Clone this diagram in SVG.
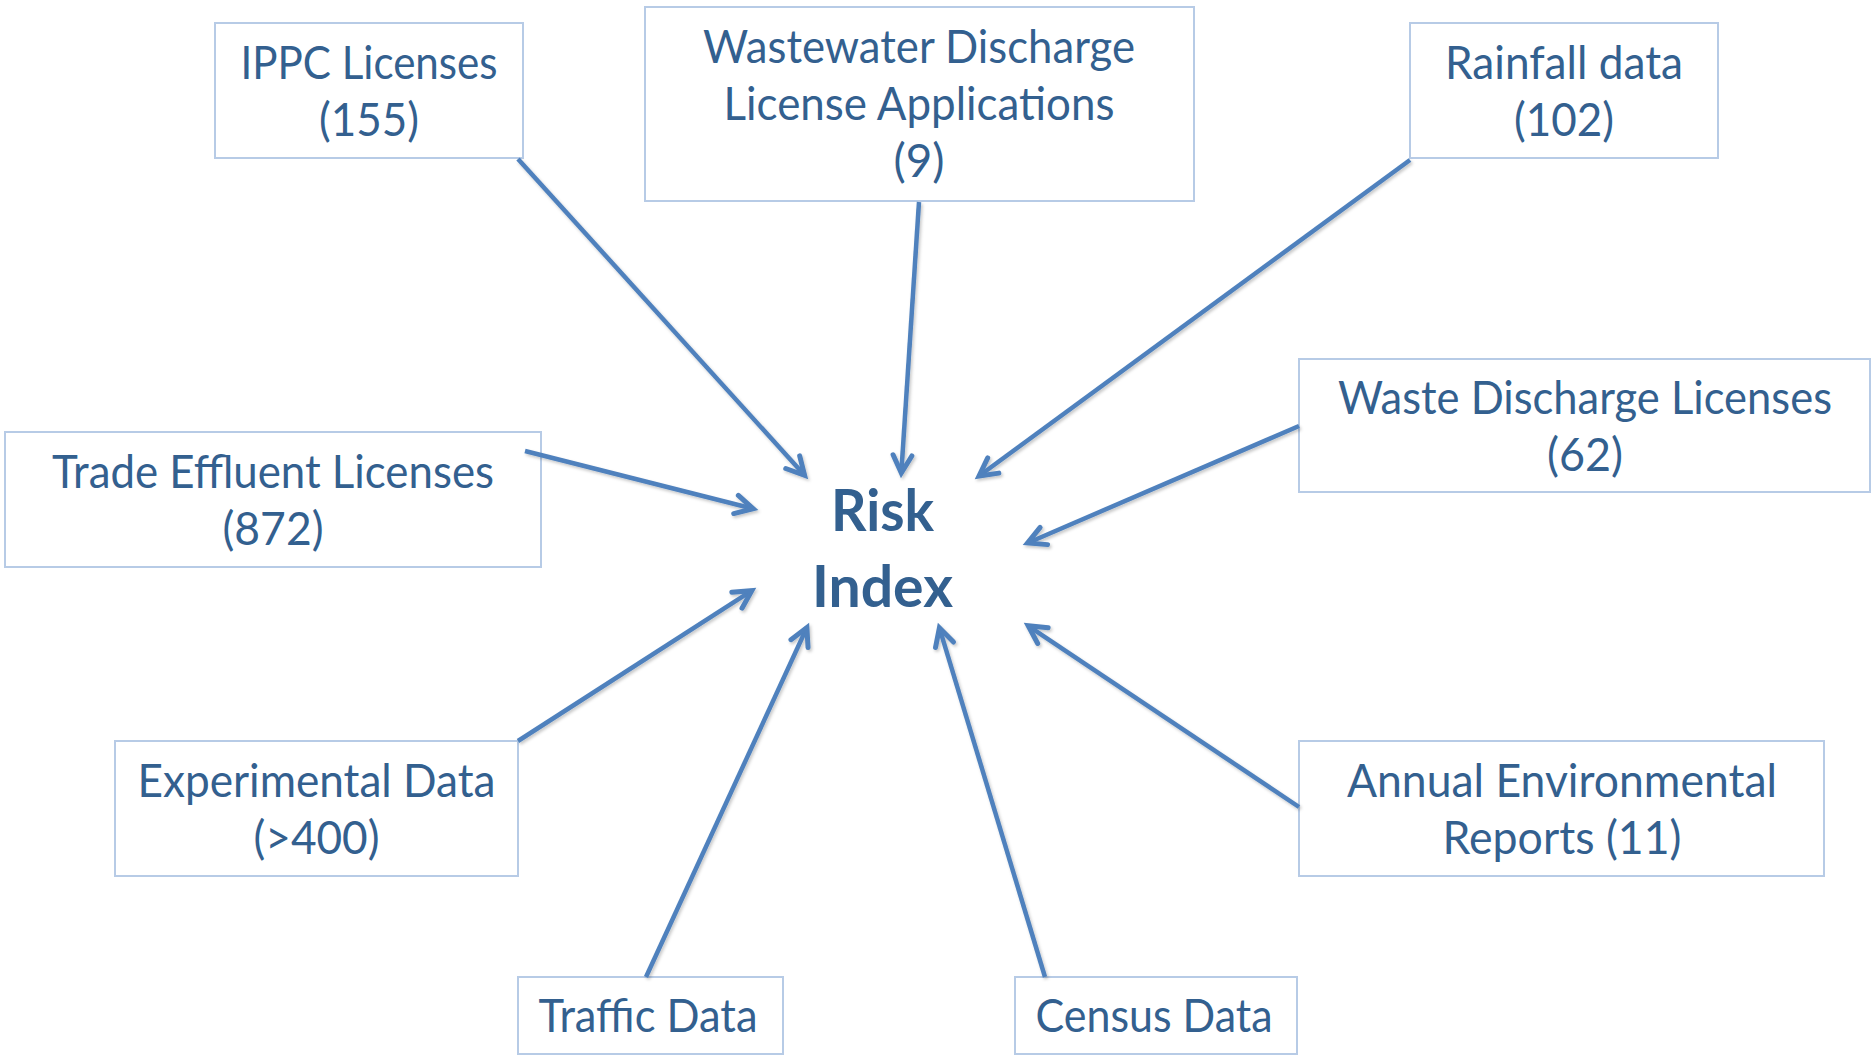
<svg xmlns="http://www.w3.org/2000/svg" width="1874" height="1060" viewBox="0 0 1874 1060">
  <style>
    .box { fill: #ffffff; stroke: #b7cbe6; stroke-width: 2; }
    .lbl { font-family: Lato, "Liberation Sans", Arial, sans-serif; font-size: 46px; fill: #33608f; text-anchor: middle; }
    .hub { font-family: Lato, "Liberation Sans", Arial, sans-serif; font-size: 57px; font-weight: 700; fill: #33608f; text-anchor: middle; }
    .link { fill: none; stroke: #4f81bd; stroke-width: 4.5; marker-end: url(#chev); }
  </style>
  <defs>
    <marker id="chev" markerUnits="userSpaceOnUse" orient="auto" viewBox="-24 -14 34 28" refX="0" refY="0" markerWidth="34" markerHeight="28">
      <path d="M -17.7 -9.4 L 0 0 L -17.7 9.4" fill="none" stroke="#4f81bd" stroke-width="5" stroke-linecap="round" stroke-linejoin="miter"/>
    </marker>
    <filter id="soft" x="-10%" y="-10%" width="120%" height="120%">
      <feDropShadow dx="1.5" dy="2" stdDeviation="1.5" flood-color="#000000" flood-opacity="0.22"/>
    </filter>
  </defs>

  <rect width="1874" height="1060" fill="#ffffff"/>

  <!-- source boxes -->
  <g id="node-ippc">
    <rect class="box" x="215" y="23" width="308" height="135"/>
    <text class="lbl" x="369" y="78.5" textLength="257" lengthAdjust="spacingAndGlyphs">IPPC Licenses</text>
    <text class="lbl" x="369" y="135.5" textLength="100" lengthAdjust="spacingAndGlyphs">(155)</text>
  </g>
  <g id="node-wastewater">
    <rect class="box" x="645" y="7" width="549" height="194"/>
    <text class="lbl" x="919" y="63" textLength="432" lengthAdjust="spacingAndGlyphs">Wastewater Discharge</text>
    <text class="lbl" x="919" y="120" textLength="391" lengthAdjust="spacingAndGlyphs">License Applications</text>
    <text class="lbl" x="919" y="177" textLength="51" lengthAdjust="spacingAndGlyphs">(9)</text>
  </g>
  <g id="node-rainfall">
    <rect class="box" x="1410" y="23" width="308" height="135"/>
    <text class="lbl" x="1564" y="78.5" textLength="238" lengthAdjust="spacingAndGlyphs">Rainfall data</text>
    <text class="lbl" x="1564" y="135.5" textLength="100" lengthAdjust="spacingAndGlyphs">(102)</text>
  </g>
  <g id="node-waste-discharge">
    <rect class="box" x="1299" y="359" width="571" height="133"/>
    <text class="lbl" x="1585" y="413.5" textLength="494" lengthAdjust="spacingAndGlyphs">Waste Discharge Licenses</text>
    <text class="lbl" x="1585" y="470.5" textLength="76" lengthAdjust="spacingAndGlyphs">(62)</text>
  </g>
  <g id="node-trade-effluent">
    <rect class="box" x="5" y="432" width="536" height="135"/>
    <text class="lbl" x="273" y="487.5" textLength="442" lengthAdjust="spacingAndGlyphs">Trade Effluent Licenses</text>
    <text class="lbl" x="273" y="544.5" textLength="101" lengthAdjust="spacingAndGlyphs">(872)</text>
  </g>
  <g id="node-experimental">
    <rect class="box" x="115" y="741" width="403" height="135"/>
    <text class="lbl" x="316.5" y="796.5" textLength="358" lengthAdjust="spacingAndGlyphs">Experimental Data</text>
    <text class="lbl" x="316.5" y="853.5" textLength="126" lengthAdjust="spacingAndGlyphs">(&gt;400)</text>
  </g>
  <g id="node-annual">
    <rect class="box" x="1299" y="741" width="525" height="135"/>
    <text class="lbl" x="1562" y="796.5" textLength="430" lengthAdjust="spacingAndGlyphs">Annual Environmental</text>
    <text class="lbl" x="1562" y="853.5" textLength="239" lengthAdjust="spacingAndGlyphs">Reports (11)</text>
  </g>
  <g id="node-traffic">
    <rect class="box" x="518" y="977" width="265" height="77"/>
    <text class="lbl" x="648" y="1032" textLength="219" lengthAdjust="spacingAndGlyphs">Traffic Data</text>
  </g>
  <g id="node-census">
    <rect class="box" x="1015" y="977" width="282" height="77"/>
    <text class="lbl" x="1154" y="1032" textLength="237" lengthAdjust="spacingAndGlyphs">Census Data</text>
  </g>

  <!-- central hub -->
  <g id="node-risk-index">
    <text class="hub" x="882.5" y="531" textLength="103" lengthAdjust="spacingAndGlyphs">Risk</text>
    <text class="hub" x="882.5" y="607" textLength="141" lengthAdjust="spacingAndGlyphs">Index</text>
  </g>

  <!-- connectors: each source points into the hub -->
  <g id="connectors" filter="url(#soft)">
    <line class="link" x1="518" y1="159" x2="804.6" y2="475.3"/>
    <line class="link" x1="919" y1="202" x2="901.3" y2="473"/>
    <line class="link" x1="1410" y1="160" x2="979" y2="476"/>
    <line class="link" x1="1299" y1="426" x2="1027.6" y2="543"/>
    <line class="link" x1="525" y1="451" x2="753.2" y2="508.8"/>
    <line class="link" x1="518" y1="741" x2="751.8" y2="590.7"/>
    <line class="link" x1="646" y1="977" x2="806.9" y2="627.5"/>
    <line class="link" x1="1045" y1="977" x2="939.4" y2="627.8"/>
    <line class="link" x1="1299" y1="807" x2="1028.2" y2="625.8"/>
  </g>
</svg>
